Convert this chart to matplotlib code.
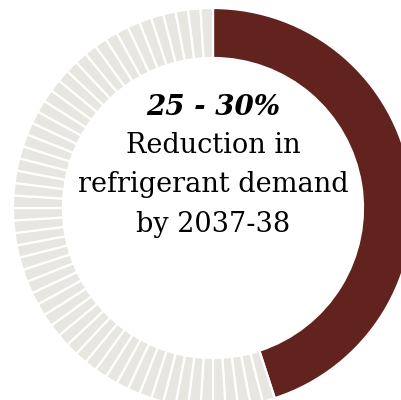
import matplotlib.pyplot as plt

# ring split: highlighted share, rest drawn as 1% ticks
highlight_share = 45
rest_ticks = [1] * 55
headline = "25 - 30%"
caption = ["Reduction in", "refrigerant demand", "by 2037-38"]

dark_red = "#62231f"
light_grey = "#e7e6e1"

fig = plt.figure(figsize=(4.02, 4.0), dpi=100)
ax = fig.add_axes([0, 0, 1, 1])
ax.set_xlim(0, 402)
ax.set_ylim(0, 400)
ax.set_aspect("equal")
ax.axis("off")

sizes = [highlight_share] + rest_ticks
colors = [dark_red] + [light_grey] * len(rest_ticks)
ax.pie(sizes, colors=colors, startangle=90, counterclock=False,
       center=(213, 192), radius=200, frame=True,
       wedgeprops=dict(width=50, edgecolor="white", linewidth=1.6))
ax.set_xlim(0, 402)
ax.set_ylim(0, 400)
ax.axis("off")

ax.text(213, 285, headline, ha="center", va="baseline", fontsize=20,
        family="DejaVu Serif", weight="bold", style="italic", color="black")
for i, line in enumerate(caption):
    ax.text(213, 247 - i * 39.5, line, ha="center", va="baseline",
            fontsize=19.5, family="DejaVu Serif", color="black")

fig.savefig("out.png", dpi=100)
